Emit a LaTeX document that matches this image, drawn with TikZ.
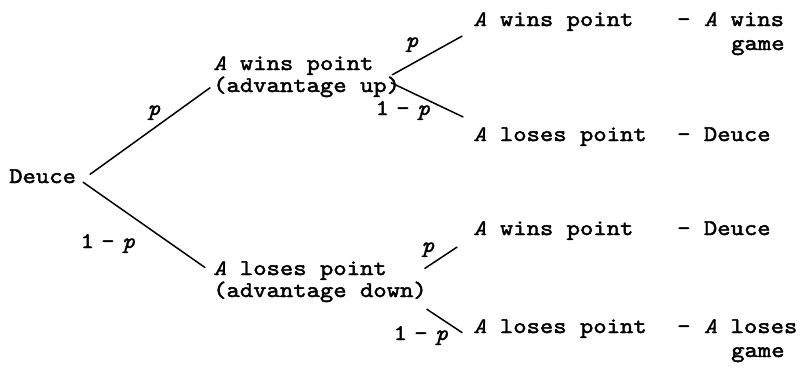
\documentclass[tikz,border=0pt]{standalone}
\usepackage{fontspec}
\setmonofont{lmmono10-regular.otf}[FakeStretch=1.14, FakeBold=2]
\newfontfamily\itfam{lmmono10-italic.otf}[FakeStretch=1.14, FakeBold=0.8]
\usetikzlibrary{calc}
\newlength\mcw \setlength\mcw{13.38pt}
\newcommand\iA{\makebox[\mcw][c]{\itfam\fontsize{22.3}{23}\selectfont A}}
\newcommand\ip{{\itfam\fontsize{22.3}{23}\selectfont p}}
\newcommand\omp{1\hspace{-1pt}\ \hspace{-5pt}-\hspace{-5pt}\ \hspace{-1pt}\ip}
\tikzset{
  txt/.style={inner sep=0pt, anchor=base west, font=\ttfamily\fontsize{22.3}{23}\selectfont},
  lbl/.style={inner sep=0pt, anchor=base, font=\ttfamily\fontsize{22.3}{23}\selectfont},
  conn/.style={line width=1.5pt, line cap=round}
}
\begin{document}
\begin{tikzpicture}[x=1pt,y=-1pt]
\fill[white] (0,0) rectangle (801,372);
\useasboundingbox (0,0) rectangle (801,372);
% nodes
\node[txt] (dc) at (9,183) {Deuce};
\node[txt] (wu1) at (213,70) {\iA\ wins point};
\node[txt] (wu2) at (213,92) {(advantage up)};
\node[txt] (ld1) at (213,275) {\iA\ loses point};
\node[txt] (ld2) at (213,297) {(advantage down)};
\node[txt] (r1) at (473,26) {\iA\ wins point};
\node[txt] (o1) at (677,26) {- \iA\ wins};
\node[txt] (o1g) at (731,50) {game};
\node[txt] (r2) at (473,141) {\iA\ loses point};
\node[txt] (o2) at (677,141) {- Deuce};
\node[txt] (r3) at (473,235) {\iA\ wins point};
\node[txt] (o3) at (677,235) {- Deuce};
\node[txt] (r4) at (473,333) {\iA\ loses point};
\node[txt] (o4) at (677,333) {- \iA\ loses};
\node[txt] (o4g) at (731,357) {game};
% labels
\node[lbl] (lp1) at (154,115) {\ip};
\node[lbl] (lq1) at (108,248) {\omp};
\node[lbl] (lp2) at (412,47) {\ip};
\node[lbl] (lq2) at (403,115) {\omp};
\node[lbl] (lp3) at (428,252) {\ip};
\node[lbl] (lq3) at (421,340) {\omp};
% connectors
\draw[conn] ($(dc.east)+(14,-2)$) -- ($(wu2.west)+(-3,1)$);
\draw[conn] ($(dc.east)+(7,6)$) -- ($(ld1.west)+(-8,-3)$);
\draw[conn] ($(wu2.east)+(-8,-12)$) -- ($(r1.south west)+(-11,5)$);
\draw[conn] ($(wu2.east)+(-9,-4)$) -- ($(r2.north west)+(-10,-10)$);
\draw[conn] ($(ld2.north east)+(-2,-13)$) -- ($(r3.south west)+(-16,7)$);
\draw[conn] ($(ld2.south east)+(0,7)$) -- ($(r4.west)+(-11,4)$);
\end{tikzpicture}
\end{document}
